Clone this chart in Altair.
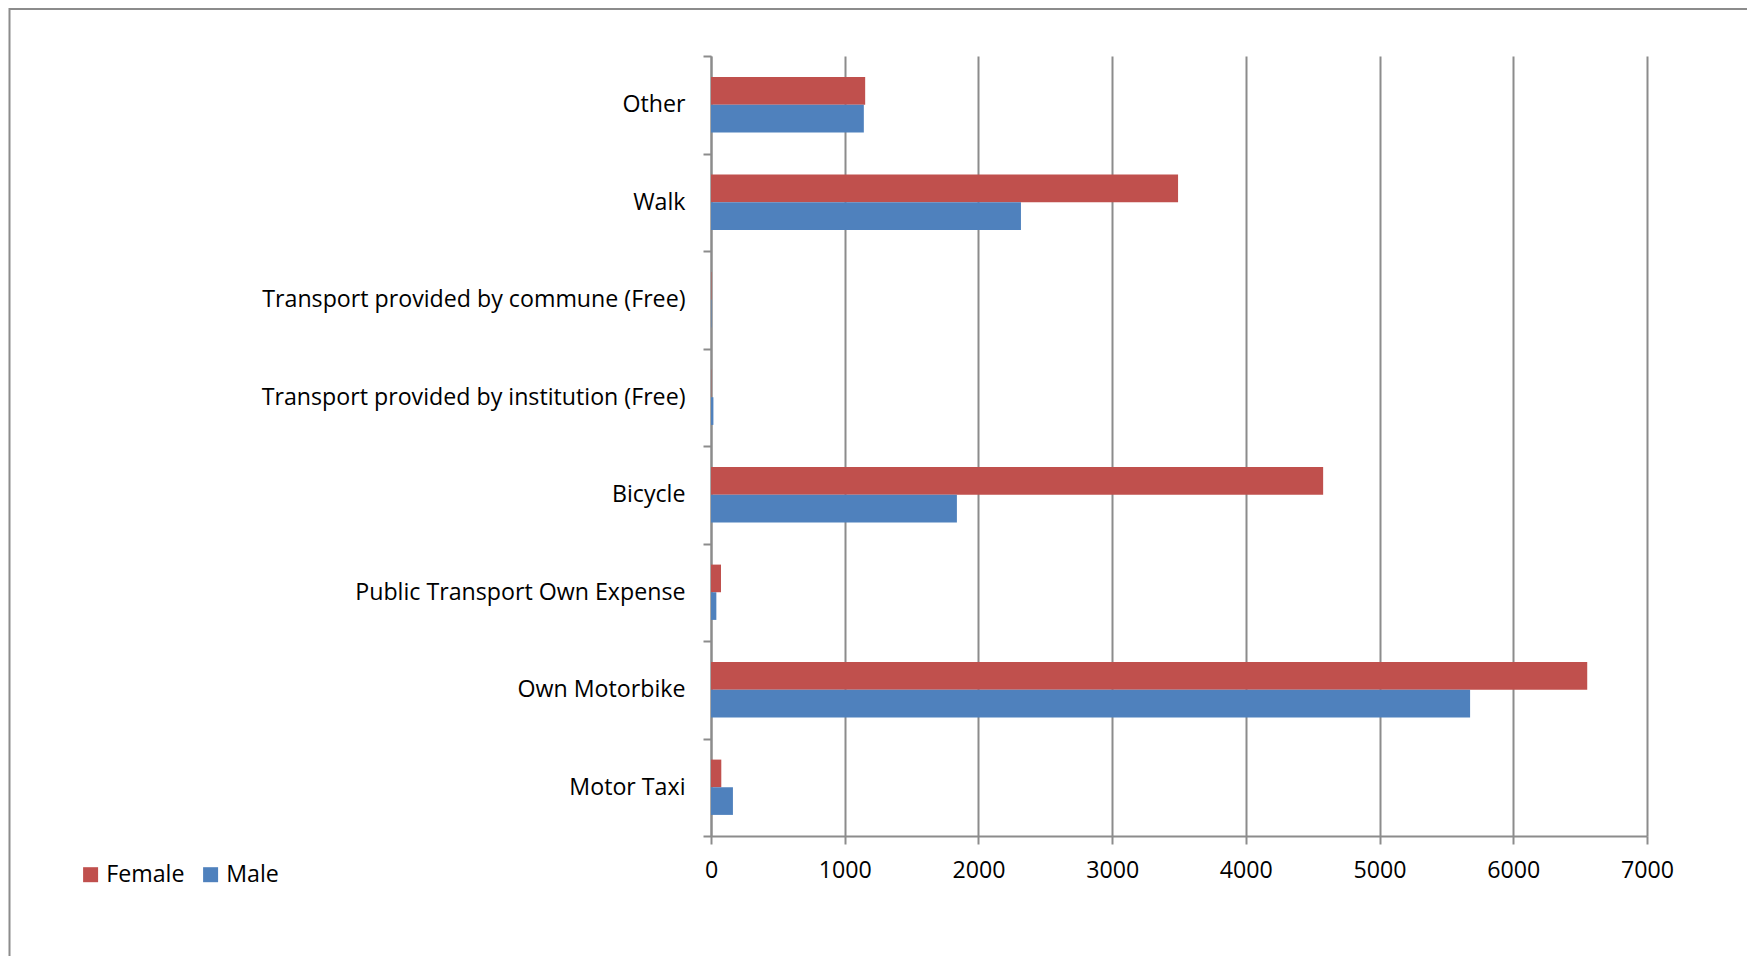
import altair as alt
import pandas as pd

categories = [
    "Other",
    "Walk",
    "Transport provided by commune (Free)",
    "Transport provided by institution (Free)",
    "Bicycle",
    "Public Transport Own Expense",
    "Own Motorbike",
    "Motor Taxi",
]
female = [1153, 3493, 3, 2, 4578, 75, 6553, 77]
male = [1143, 2318, 3, 18, 1839, 40, 5677, 164]
series = ["Female", "Male"]
colors = ["#C0504D", "#4F81BD"]
x_ticks = [0, 1000, 2000, 3000, 4000, 5000, 6000, 7000]

rows = []
for c, f, m in zip(categories, female, male):
    rows.append({"category": c, "series": "Female", "value": f})
    rows.append({"category": c, "series": "Male", "value": m})
df = pd.DataFrame(rows)

FONT = "Open Sans"
FS = 23.2
GRAY = "#8c8c8c"

bars = alt.Chart(df).mark_bar().encode(
    x=alt.X(
        "value:Q",
        scale=alt.Scale(domain=[0, 7000], nice=False, zero=True),
        axis=alt.Axis(
            title=None,
            values=x_ticks,
            grid=True,
            gridColor=GRAY,
            gridWidth=2,
            domainColor=GRAY,
            domainWidth=2,
            tickColor=GRAY,
            tickWidth=2,
            tickSize=8,
            labelFont=FONT,
            labelFontSize=FS,
            labelColor="#000000",
            labelPadding=15,
            labelFlush=False,
            format="d",
        ),
    ),
    y=alt.Y(
        "category:N",
        sort=categories,
        scale=alt.Scale(paddingInner=0, paddingOuter=0),
        axis=alt.Axis(
            title=None,
            tickBand="extent",
            domainColor=GRAY,
            domainWidth=2,
            tickColor=GRAY,
            tickWidth=2,
            tickSize=8,
            labelFont=FONT,
            labelFontSize=FS,
            labelColor="#000000",
            labelPadding=18,
            labelLimit=600,
        ),
    ),
    yOffset=alt.YOffset(
        "series:N", sort=series, scale=alt.Scale(paddingInner=0, paddingOuter=0.763)
    ),
    color=alt.Color(
        "series:N",
        sort=series,
        scale=alt.Scale(domain=series, range=colors),
        legend=alt.Legend(
            title=None,
            orient="none",
            direction="horizontal",
            legendX=-632,
            legendY=807,
            symbolType="square",
            symbolSize=225,
            symbolStrokeWidth=0,
            labelFont=FONT,
            labelFontSize=FS,
            labelColor="#000000",
            labelOffset=4,
            columnPadding=14,
        ),
    ),
)

frame_df = pd.DataFrame({"k": [0]})
frame_v = alt.Chart(frame_df).mark_rule(color=GRAY, strokeWidth=2).encode(
    x=alt.value(-701.5), y=alt.value(-48), y2=alt.value(1000)
)
frame_h = alt.Chart(frame_df).mark_rule(color=GRAY, strokeWidth=2).encode(
    y=alt.value(-47), x=alt.value(-702), x2=alt.value(1200)
)

chart = (
    alt.layer(bars, frame_v, frame_h)
    .properties(
        width=936,
        height=780,
        autosize=alt.AutoSizeParams(type="none"),
        padding={"left": 703, "top": 48, "right": 100, "bottom": 120},
    )
    .configure_view(stroke=None)
)

chart.save("out.html", embed_options={"renderer": "svg", "actions": False})
